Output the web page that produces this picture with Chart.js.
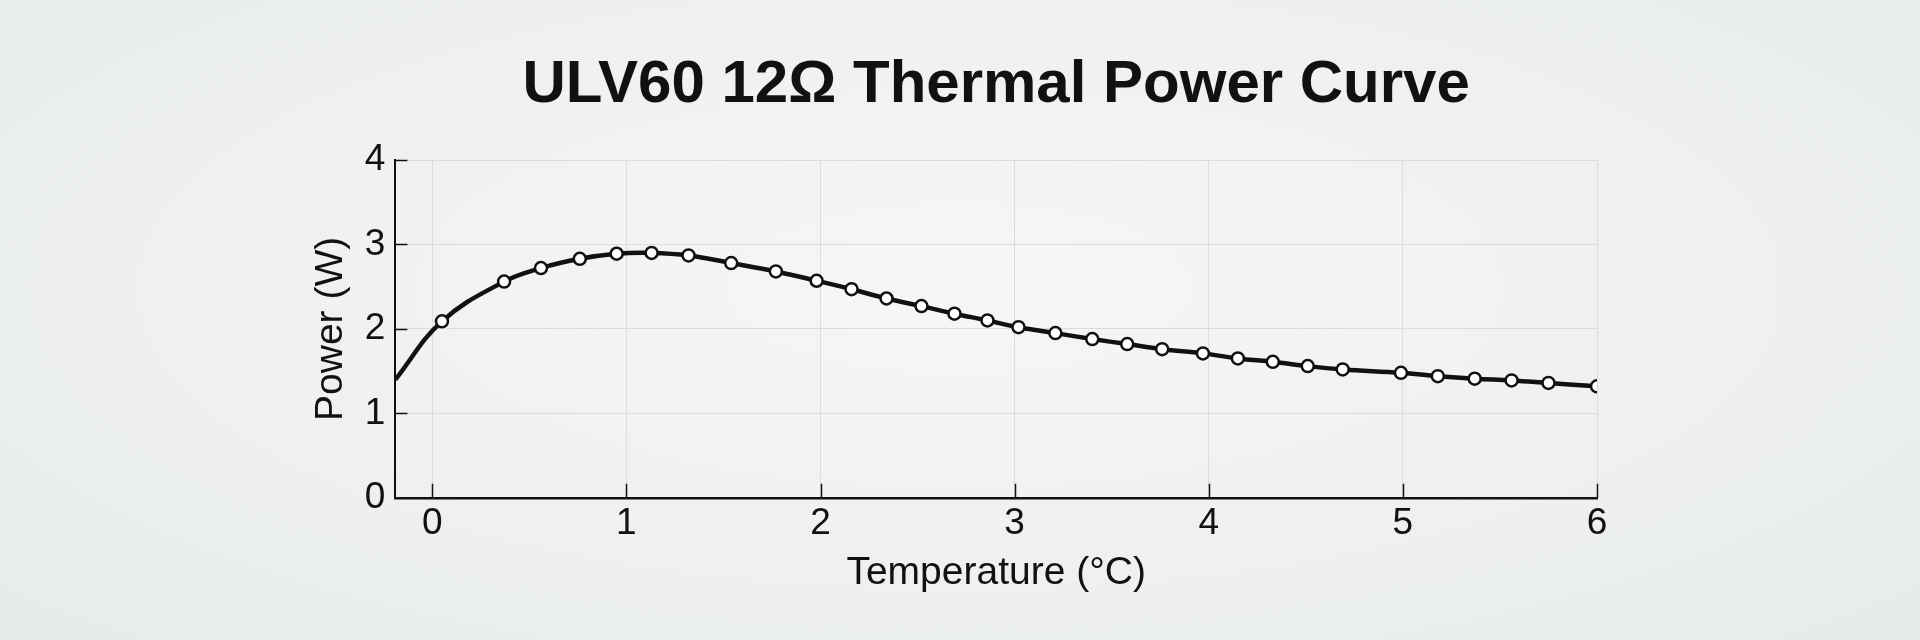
<!DOCTYPE html>
<html>
<head>
<meta charset="utf-8">
<title>ULV60 12Ω Thermal Power Curve</title>
<script src="https://cdn.jsdelivr.net/npm/chart.js@4/dist/chart.umd.min.js"></script>
<style>
  html, body {
    margin: 0;
    padding: 0;
    width: 1920px;
    height: 640px;
    overflow: hidden;
    background: radial-gradient(ellipse at 50% 45%, #f4f6f7 0%, #eef0f1 55%, #e7eaeb 100%);
  }
  #wrap { position: relative; width: 1920px; height: 640px; }
</style>
</head>
<body>
<div id="wrap"><canvas id="chart" width="1920" height="640"></canvas></div>
<script>
// temperature (°C) and power (W)
const temps = [-0.19, 0.05, 0.37, 0.56, 0.76, 0.95, 1.13, 1.32, 1.54, 1.77, 1.98, 2.16, 2.34, 2.52, 2.69, 2.86,
  3.02, 3.21, 3.40, 3.58, 3.76, 3.97, 4.15, 4.33, 4.51, 4.69, 4.99, 5.18, 5.37, 5.56, 5.75, 6.00];
const power = [1.40, 2.09, 2.56, 2.72, 2.83, 2.89, 2.90, 2.87, 2.78, 2.68, 2.57, 2.47, 2.36, 2.27, 2.18, 2.10,
  2.02, 1.95, 1.88, 1.82, 1.76, 1.71, 1.65, 1.61, 1.56, 1.52, 1.48, 1.44, 1.41, 1.39, 1.36, 1.32];
const xTicks = [0, 1, 2, 3, 4, 5, 6];
const yTicks = [0, 1, 2, 3, 4];

const points = temps.map((t, i) => ({ x: t, y: power[i] }));
// first point is where the curve leaves the axis, no marker there
const radii = temps.map((t, i) => (i === 0 ? 0 : 6));

const FONT = "'Liberation Sans', Arial, Helvetica, sans-serif";
const INK = "#111111";
const GRID = "#d9dddf";

// short tick marks pointing into the plot
const innerTicks = {
  id: "innerTicks",
  beforeDatasetsDraw(chart) {
    const ctx = chart.ctx;
    const x = chart.scales.x, y = chart.scales.y;
    const area = chart.chartArea;
    ctx.save();
    ctx.strokeStyle = INK;
    ctx.lineWidth = 1.5;
    ctx.beginPath();
    xTicks.forEach(v => {
      const px = Math.round(x.getPixelForValue(v)) + 0.5;
      ctx.moveTo(px, area.bottom);
      ctx.lineTo(px, area.bottom - 14);
    });
    yTicks.slice(1).forEach(v => {
      const py = Math.round(y.getPixelForValue(v)) + 0.5;
      ctx.moveTo(area.left, py);
      ctx.lineTo(area.left + 12, py);
    });
    ctx.stroke();
    ctx.restore();
  }
};

new Chart(document.getElementById("chart"), {
  type: "line",
  data: {
    datasets: [{
      data: points,
      borderColor: INK,
      borderWidth: 4.5,
      tension: 0.4,
      pointRadius: radii,
      pointBackgroundColor: "#ffffff",
      pointBorderColor: INK,
      pointBorderWidth: 2.5,
      fill: false
    }]
  },
  options: {
    responsive: false,
    devicePixelRatio: 1,
    animation: false,
    layout: { padding: { left: 308, right: 323, top: 0, bottom: 43 } },
    plugins: {
      legend: { display: false },
      tooltip: { enabled: false },
      title: {
        display: true,
        fullSize: false,
        text: "ULV60 12Ω Thermal Power Curve",
        color: INK,
        font: { family: FONT, size: 60, weight: "bold" },
        padding: { top: 49, bottom: 39 }
      }
    },
    scales: {
      x: {
        type: "linear",
        min: -0.19,
        max: 6,
        afterBuildTicks: s => { s.ticks = xTicks.map(v => ({ value: v })); },
        grid: { color: GRID, lineWidth: 1, drawTicks: false },
        border: { color: INK, width: 2.5 },
        ticks: { color: INK, padding: 4, font: { family: FONT, size: 37 } },
        title: {
          display: true,
          text: "Temperature (°C)",
          color: INK,
          font: { family: FONT, size: 39 },
          padding: { top: 0, bottom: 0 }
        }
      },
      y: {
        min: 0,
        max: 4,
        afterBuildTicks: s => { s.ticks = yTicks.map(v => ({ value: v })); },
        grid: { color: GRID, lineWidth: 1, drawTicks: false },
        border: { color: INK, width: 2 },
        ticks: { color: INK, padding: 10, font: { family: FONT, size: 37 } },
        title: {
          display: true,
          text: "Power (W)",
          color: INK,
          font: { family: FONT, size: 39 },
          padding: { top: 0, bottom: 0 }
        }
      }
    }
  },
  plugins: [innerTicks]
});
</script>
</body>
</html>
